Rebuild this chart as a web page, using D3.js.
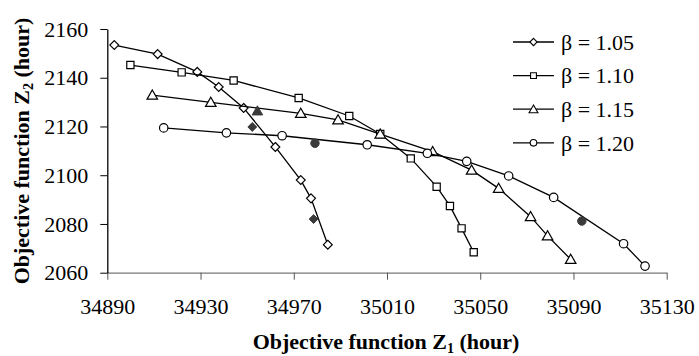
<!DOCTYPE html>
<html>
<head>
<meta charset="utf-8">
<script src="https://cdn.jsdelivr.net/npm/d3@7/dist/d3.min.js"></script>
<style>
	body { margin: 0; background: #fff; }
	svg text { font-family: "Liberation Serif", "Times New Roman", serif !important; }
</style>
</head>
<body>
<div id="chart"></div>
<script>
// DATA
const xTicks = [34890, 34930, 34970, 35010, 35050, 35090, 35130];
const yTicks = [2060, 2080, 2100, 2120, 2140, 2160];
const seriesNames = ["β = 1.05", "β = 1.10", "β = 1.15", "β = 1.20"];

// beta = 1.05 (diamond)
const b105Z1 = [34893.0, 34911.6, 34928.6, 34937.8, 34948.5, 34962.1, 34973.0, 34977.4, 34984.6];
const b105Z2 = [2153.4, 2149.7, 2142.4, 2136.2, 2127.6, 2111.6, 2098.0, 2090.5, 2071.5];
// beta = 1.10 (square)
const b110Z1 = [34899.9, 34921.9, 34944.2, 34972.1, 34993.8, 35007.1, 35020.2, 35031.3, 35037.0, 35042.0, 35047.2];
const b110Z2 = [2145.2, 2142.2, 2138.9, 2131.7, 2124.3, 2116.9, 2106.9, 2095.3, 2087.4, 2078.2, 2068.4];
// beta = 1.15 (triangle)
const b115Z1 = [34909.3, 34934.4, 34973.0, 34989.0, 35007.1, 35029.6, 35046.3, 35057.9, 35071.6, 35078.9, 35088.8];
const b115Z2 = [2132.9, 2129.9, 2125.4, 2122.7, 2116.9, 2109.7, 2102.1, 2094.6, 2083.0, 2075.1, 2065.5];
// beta = 1.20 (circle)
const b120Z1 = [34914.2, 34941.1, 34965.0, 35001.5, 35027.3, 35044.2, 35062.2, 35081.5, 35111.5, 35120.7];
const b120Z2 = [2119.4, 2117.4, 2116.2, 2112.5, 2109.0, 2105.7, 2099.7, 2090.9, 2071.9, 2062.7];

// filled single points
const soloShape = ["triangle", "diamond", "circle", "diamond", "circle"];
const soloZ1 = [34954.4, 34952.2, 34979.1, 34978.5, 35093.6];
const soloZ2 = [2126.4, 2119.8, 2113.1, 2082.0, 2081.2];


// CHART
function graphData() {
	const w = 699;
	const h = 356;
	const serif = "'Liberation Serif', 'Times New Roman', serif";
	const fs = 22;

	const xScale = d3.scaleLinear()
		.domain([34890, 35130])
		.range([107.3, 666.7]);
	const yScale = d3.scaleLinear()
		.domain([2060, 2160])
		.range([272.7, 29]);

	const svg = d3.select("#chart")
		.append("svg")
		.attr("width", w)
		.attr("height", h)
		.attr("font-family", serif);

	// x-axis
	const xAxis = d3.axisBottom(xScale)
		.tickValues(xTicks)
		.tickFormat(d => d.toString())
		.tickSize(7)
		.tickSizeOuter(0)
		.tickPadding(19);
	const gx = svg.append("g")
		.attr("transform", `translate(0, ${yScale(2060)})`)
		.call(xAxis)
		.attr("font-family", serif)
		.attr("font-size", fs);
	gx.select(".domain").attr("stroke", "#777").attr("stroke-width", 1.3);
	gx.selectAll(".tick line").attr("stroke", "#555").attr("stroke-width", 1);
	gx.selectAll(".tick text").attr("fill", "#000");

	// y-axis
	const yAxis = d3.axisLeft(yScale)
		.tickValues(yTicks)
		.tickFormat(d => d.toString())
		.tickSize(7)
		.tickSizeOuter(0)
		.tickPadding(12);
	const gy = svg.append("g")
		.attr("transform", `translate(${xScale(34890)}, 0)`)
		.call(yAxis)
		.attr("font-family", serif)
		.attr("font-size", fs);
	gy.select(".domain").attr("stroke", "#000").attr("stroke-width", 1.3);
	gy.selectAll(".tick line").attr("stroke", "#000").attr("stroke-width", 1);
	gy.selectAll(".tick text").attr("fill", "#000");

	// axis titles
	const xt = svg.append("text")
		.attr("x", 386)
		.attr("y", 349)
		.attr("text-anchor", "middle")
		.attr("font-size", fs)
		.attr("font-weight", "bold");
	xt.append("tspan").text("Objective function Z");
	xt.append("tspan").text("1").attr("font-size", 14).attr("dy", 4);
	xt.append("tspan").text(" (hour)").attr("dy", -4);

	const yt = svg.append("text")
		.attr("transform", "translate(29, 151) rotate(-90)")
		.attr("text-anchor", "middle")
		.attr("font-size", fs)
		.attr("font-weight", "bold");
	yt.append("tspan").text("Objective function Z");
	yt.append("tspan").text("2").attr("font-size", 14).attr("dy", 4);
	yt.append("tspan").text(" (hour)").attr("dy", -4);

	// series
	const series = [
		{ name: seriesNames[0], shape: "diamond", xs: b105Z1, ys: b105Z2 },
		{ name: seriesNames[1], shape: "square", xs: b110Z1, ys: b110Z2 },
		{ name: seriesNames[2], shape: "triangle", xs: b115Z1, ys: b115Z2 },
		{ name: seriesNames[3], shape: "circle", xs: b120Z1, ys: b120Z2 }
	];

	const typeOf = {
		diamond: d3.symbolDiamond2,
		square: d3.symbolSquare,
		triangle: d3.symbolTriangle,
		circle: d3.symbolCircle
	};
	const sizeOf = { diamond: 50, square: 52, triangle: 48, circle: 56 };
	const symbolOf = shape => d3.symbol().type(typeOf[shape]).size(sizeOf[shape])();

	const line = d3.line()
		.x(d => xScale(d[0]))
		.y(d => yScale(d[1]));

	series.forEach(s => {
		const pts = s.xs.map((x, i) => [x, s.ys[i]]);
		svg.append("path")
			.datum(pts)
			.attr("d", line)
			.attr("fill", "none")
			.attr("stroke", "#000")
			.attr("stroke-width", 1.3);
		svg.selectAll(null)
			.data(pts)
			.enter()
			.append("path")
			.attr("d", symbolOf(s.shape))
			.attr("transform", d => `translate(${xScale(d[0])}, ${yScale(d[1]) + (s.shape === "triangle" ? 1 : 0)})`)
			.attr("fill", "#fff")
			.attr("stroke", "#000")
			.attr("stroke-width", 1.2);
	});

	// filled points
	svg.selectAll(null)
		.data(soloZ1.map((x, i) => [x, soloZ2[i], soloShape[i]]))
		.enter()
		.append("path")
		.attr("d", d => symbolOf(d[2]))
		.attr("transform", d => `translate(${xScale(d[0])}, ${yScale(d[1]) + (d[2] === "triangle" ? 1 : 0)})`)
		.attr("fill", "#3a3a3a")
		.attr("stroke", "#3a3a3a")
		.attr("stroke-width", 1);

	// legend
	const legend = svg.append("g").attr("transform", "translate(513, 42)");
	series.forEach((s, i) => {
		const g = legend.append("g").attr("transform", `translate(0, ${i * 33.6})`);
		g.append("line")
			.attr("x1", 0).attr("x2", 41)
			.attr("y1", 0).attr("y2", 0)
			.attr("stroke", "#000")
			.attr("stroke-width", 1.3);
		g.append("path")
			.attr("d", d3.symbol().type(typeOf[s.shape]).size(34))
			.attr("transform", `translate(20.5, ${s.shape === "triangle" ? 1 : 0})`)
			.attr("fill", "#fff")
			.attr("stroke", "#000")
			.attr("stroke-width", 1.1);
		g.append("text")
			.attr("x", 48)
			.attr("y", 0)
			.attr("dy", "0.35em")
			.attr("font-size", fs)
			.text(s.name);
	});
}

document.addEventListener('DOMContentLoaded', () => {
	graphData();
});
</script>
</body>
</html>
